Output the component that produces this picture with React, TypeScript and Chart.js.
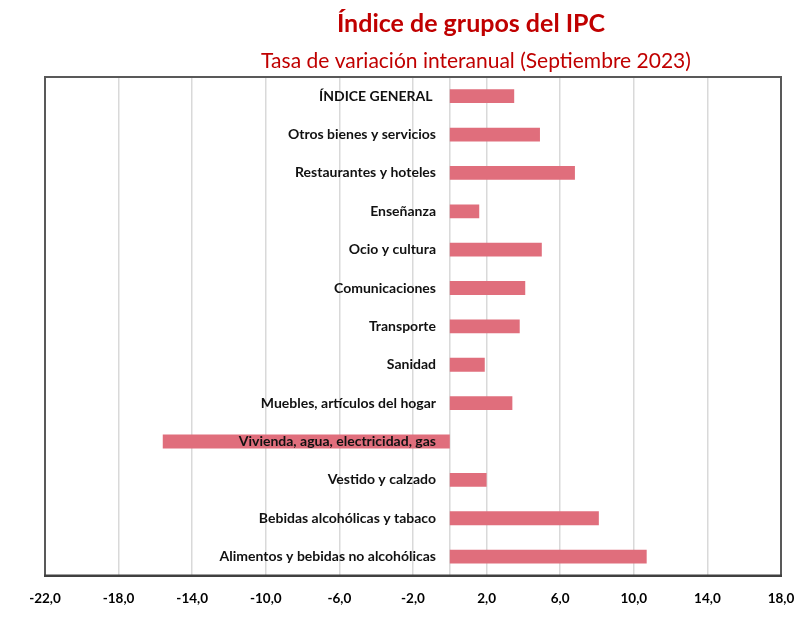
import React, { useEffect, useRef } from "react";
import { Chart, registerables } from "chart.js";

Chart.register(...registerables);

const titleText = "Índice de grupos del IPC";
const subtitleText = "Tasa de variación interanual (Septiembre 2023)";

const categories = [
  "ÍNDICE GENERAL ",
  "Otros bienes y servicios",
  "Restaurantes y hoteles",
  "Enseñanza",
  "Ocio y cultura",
  "Comunicaciones",
  "Transporte",
  "Sanidad",
  "Muebles, artículos del hogar",
  "Vivienda, agua, electricidad, gas",
  "Vestido y calzado",
  "Bebidas alcohólicas y tabaco",
  "Alimentos y bebidas no alcohólicas",
];

const values = [3.5, 4.9, 6.8, 1.6, 5.0, 4.1, 3.8, 1.9, 3.4, -15.6, 2.0, 8.1, 10.7];

const xMin = -22;
const xMax = 18;
const xStep = 4;
const labelAnchor = -0.75;

const FONT = "Lato, 'Open Sans', 'DejaVu Sans', sans-serif";

const titlesPlugin = {
  id: "titlesPlugin",
  afterDraw(chart: any) {
    const ctx = chart.ctx;
    ctx.save();
    ctx.textAlign = "center";
    ctx.textBaseline = "middle";
    ctx.fillStyle = "#C00000";
    ctx.font = `bold 25px ${FONT}`;
    ctx.fillText(titleText, 471, 24);
    ctx.font = `21px ${FONT}`;
    ctx.fillText(subtitleText, 476, 61);
    ctx.restore();
  },
};

const framePlugin = {
  id: "framePlugin",
  beforeDatasetsDraw(chart: any) {
    const { ctx, chartArea, scales } = chart;
    const x0 = scales.x.getPixelForValue(0);
    ctx.save();
    ctx.strokeStyle = "#D9D9D9";
    ctx.lineWidth = 1.5;
    ctx.beginPath();
    ctx.moveTo(x0, chartArea.top);
    ctx.lineTo(x0, chartArea.bottom);
    ctx.stroke();
    ctx.restore();
  },
  afterDraw(chart: any) {
    const { ctx, chartArea } = chart;
    const { left, right, top, bottom } = chartArea;
    ctx.save();
    ctx.strokeStyle = "#595959";
    ctx.lineWidth = 2;
    ctx.beginPath();
    ctx.moveTo(left, bottom);
    ctx.lineTo(left, top);
    ctx.lineTo(right, top);
    ctx.lineTo(right, bottom);
    ctx.stroke();
    ctx.strokeStyle = "#404040";
    ctx.lineWidth = 2.5;
    ctx.beginPath();
    ctx.moveTo(left - 1, bottom);
    ctx.lineTo(right + 1, bottom);
    ctx.stroke();
    ctx.restore();
  },
};

export default function App() {
  const canvasRef = useRef<HTMLCanvasElement | null>(null);

  useEffect(() => {
    if (!canvasRef.current) return;
    const chart = new Chart(canvasRef.current, {
      type: "bar",
      data: {
        labels: categories,
        datasets: [
          {
            data: values,
            backgroundColor: "#E06E7C",
            borderWidth: 0,
            barPercentage: 0.36,
            categoryPercentage: 1,
          },
        ],
      },
      options: {
        indexAxis: "y",
        animation: false,
        responsive: true,
        maintainAspectRatio: false,
        layout: { padding: { left: 45, right: 19, top: 77, bottom: 8 } },
        plugins: {
          legend: { display: false },
          title: { display: false },
          tooltip: { enabled: false },
        },
        scales: {
          x: {
            min: xMin,
            max: xMax,
            ticks: {
              stepSize: xStep,
              padding: 3,
              color: "#000000",
              font: { family: FONT, size: 13.5, weight: "bold" },
              callback: (v: any) => Number(v).toFixed(1).replace(".", ","),
            },
            grid: {
              color: "#D9D9D9",
              lineWidth: 1.5,
              drawTicks: true,
              tickLength: 12,
              tickColor: "rgba(0,0,0,0)",
            },
            border: { display: false },
          },
          y: {
            position: { x: labelAnchor } as any,
            grid: { display: false },
            border: { display: false },
            ticks: {
              z: 1,
              padding: 0,
              color: "#111111",
              font: { family: FONT, size: 14, weight: "bold" },
            },
          },
        },
      },
      plugins: [titlesPlugin, framePlugin],
    });
    return () => chart.destroy();
  }, []);

  return (
    <div style={{ position: "fixed", left: 0, top: 0, width: 800, height: 618, background: "#ffffff" }}>
      <canvas ref={canvasRef} />
    </div>
  );
}
